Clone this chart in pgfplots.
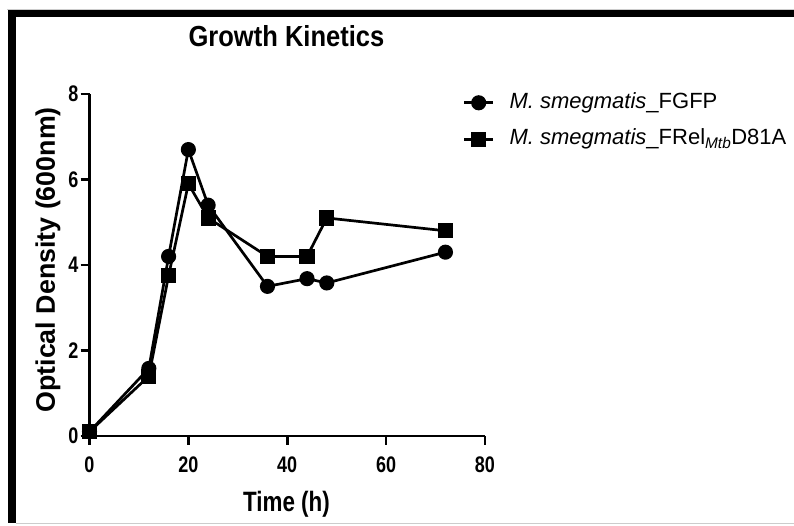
\documentclass[border=0pt]{standalone}
\usepackage{pgfplots}
\pgfplotsset{compat=1.18}
\usepackage{fontspec}
\setmainfont{Liberation Sans}
\newfontfamily\ticksfont[FakeStretch=0.8]{Liberation Sans}
\newfontfamily\titlefont[FakeStretch=0.88]{Liberation Sans}
\begin{document}
\begin{tikzpicture}[x=1bp,y=1bp]
\useasboundingbox (0,0) rectangle (794,526);
\fill[white] (0,0) rectangle (794,526);
\fill[black] (8,509) rectangle (794,516);
\fill[black] (8,3) rectangle (16,516);
\draw[gray!40, line width=1bp] (16,2.5) -- (794,2.5);
\draw[gray!40, line width=0.8bp] (7,517) -- (794,517);
\begin{axis}[
  at={(89.5bp,90bp)}, anchor=south west,
  scale only axis, width=395.5bp, height=342bp,
  xmin=0, xmax=80, ymin=0, ymax=8,
  axis x line*=bottom, axis y line*=left,
  axis line style={line width=2.6bp, -},
  x axis line style={line width=2.6bp, -},
  y axis line style={line width=2.6bp, -},
  xtick={0,20,40,60,80}, ytick={0,2,4,6,8},
  tick align=outside, major tick length=9bp,
  major tick style={black, line width=2.6bp},
  tick label style={font=\ticksfont\bfseries\fontsize{22.5bp}{24bp}\selectfont, inner sep=2bp},
  /pgf/number format/assume math mode=true,
  xticklabel style={yshift=-10bp},
  clip=false,
  title={Growth Kinetics},
  title style={at={(axis description cs:0.498,1.12)}, anchor=base, font=\titlefont\bfseries\fontsize{29bp}{32bp}\selectfont},
  xlabel={Time (h)},
  every axis x label/.style={at={(axis description cs:0.498,-0.222)}, anchor=base, font=\ticksfont\bfseries\fontsize{28bp}{30bp}\selectfont},
  ylabel={Optical Density (600nm)},
  every axis y label/.style={at={(axis description cs:-0.105,0.515)}, anchor=center, rotate=90, font=\bfseries\fontsize{26.8bp}{28bp}\selectfont},
  legend style={at={(axis description cs:0.944,1.005)}, anchor=north west, draw=none, fill=none, inner sep=0pt, outer sep=0pt, row sep=15.5bp, column sep=15bp, font=\fontsize{22bp}{24bp}\selectfont, nodes={inner sep=0pt, text height=16bp, text depth=5bp}},
  legend cell align=left,
  legend image code/.code={\draw[mark repeat=2,mark phase=2,#1] plot coordinates {(0bp,0bp) (14.5bp,0bp) (29bp,0bp)};},
]
\addplot[black, line width=2.7bp, mark=*, mark size=6.2bp, mark options={solid, fill=black}]
  coordinates {(0,0.1)(12,1.58)(16,4.2)(20,6.7)(24,5.4)(36,3.5)(44,3.68)(48,3.58)(72,4.3)};
\addlegendentry{\textit{M. smegmatis}\_FGFP}
\addplot[black, line width=2.7bp, mark=square*, mark size=6.2bp, mark options={solid, fill=black}]
  coordinates {(0,0.1)(12,1.4)(16,3.75)(20,5.9)(24,5.1)(36,4.2)(44,4.2)(48,5.1)(72,4.8)};
\addlegendentry{\textit{M. smegmatis}\_FRel\textsubscript{\textit{Mtb}}D81A}
\end{axis}
\end{tikzpicture}
\end{document}
